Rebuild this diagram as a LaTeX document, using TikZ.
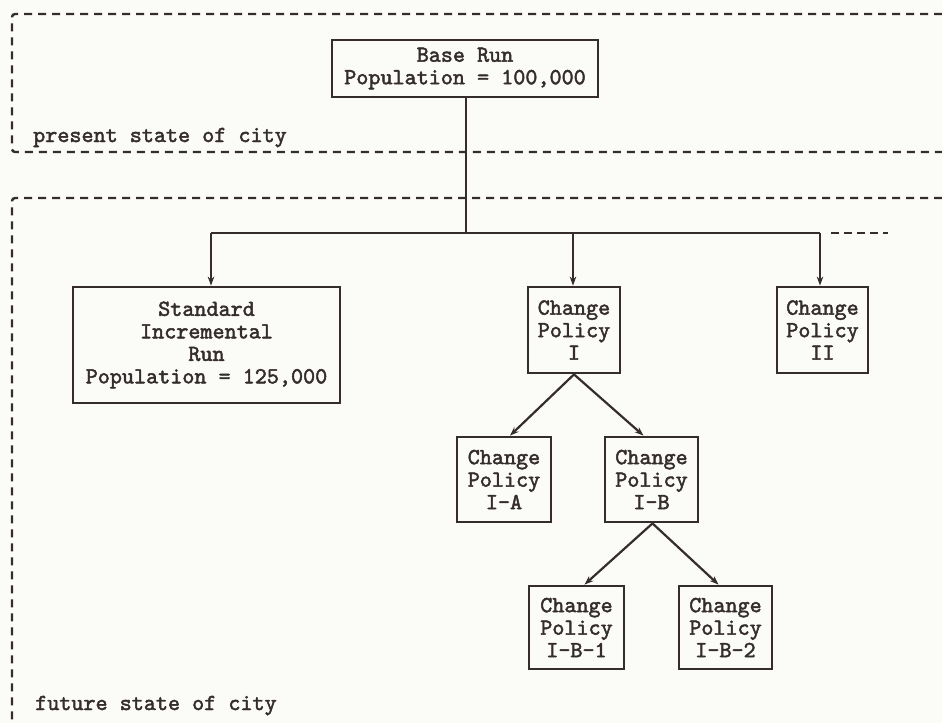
\documentclass[tikz,border=0pt]{standalone}
\usepackage{fontspec}
\newfontfamily\tw{lmmono10-regular.otf}[FakeBold=2]
\usetikzlibrary{arrows.meta}
\definecolor{ink}{HTML}{352C2C}
\definecolor{paper}{HTML}{FBFBF8}
\begin{document}
\begin{tikzpicture}[x=1pt,y=-1pt,
  box/.style={draw=ink, line width=2.8pt, inner sep=0pt, align=center,
    font=\tw\fontsize{23}{22.5}\selectfont, text=ink},
  lbl/.style={inner sep=0pt, anchor=base west, text=ink,
    font=\tw\fontsize{23}{22.5}\selectfont},
  conn/.style={draw=ink, line width=2.2pt},
  arr/.style={conn, -{Stealth[length=9pt,width=6.5pt]}},
  frame/.style={draw=ink, line width=2.4pt, dash pattern=on 8pt off 6pt,
    rounded corners=3pt}]
% page
\fill[paper] (0,0) rectangle (942,723);
\useasboundingbox (0,0) rectangle (942,723);

% the two dashed regions
\draw[frame] (942,14) -- (12,14) -- (12,152) -- (942,152);
\draw[frame] (942,198) -- (12,198) -- (12,723);
\node[lbl] (present) at (33,142) {present state of city};
\node[lbl] (future) at (35,710) {future state of city};

% runs
\node[box, minimum width=266pt, minimum height=57pt] (base) at (465,68.5)
  {Base Run\\Population = 100,000};
\node[box, minimum width=267pt, minimum height=116pt] (std) at (206.5,345)
  {Standard\\Incremental\\Run\\Population = 125,000};
\node[box, minimum width=92pt, minimum height=86pt] (p1) at (574,330)
  {Change\\Policy\\I};
\node[box, minimum width=91pt, minimum height=86pt] (p2) at (822.5,330)
  {Change\\Policy\\II};
\node[box, minimum width=94pt, minimum height=85pt] (p1a) at (504,479.5)
  {Change\\Policy\\I-A};
\node[box, minimum width=93pt, minimum height=85pt] (p1b) at (651.5,479.5)
  {Change\\Policy\\I-B};
\node[box, minimum width=95pt, minimum height=83pt] (p1b1) at (576.5,627.5)
  {Change\\Policy\\I-B-1};
\node[box, minimum width=93pt, minimum height=83pt] (p1b2) at (725.5,627.5)
  {Change\\Policy\\I-B-2};

% distribution bar
\coordinate (jb) at (466,233);
\coordinate (j1) at (211,233);
\coordinate (j2) at (573,233);
\coordinate (j3) at (820,233);
\coordinate (e0) at (831,233);
\coordinate (e1) at (888,233);

\draw[conn] ([xshift=1pt]base.south) -- (jb);
\draw[conn] (j1) -- (j3);
\draw[conn, dash pattern=on 8pt off 5pt] (e0) -- (e1);
\draw[arr] (j1) -- (j1 |- std.north);
\draw[arr] (j2) -- (j2 |- p1.north);
\draw[arr] (j3) -- (j3 |- p2.north);

% policy branches
\draw[arr] (p1.south) -- ([xshift=6pt]p1a.north);
\draw[arr] (p1.south) -- ([xshift=-8pt]p1b.north);
\draw[arr] ([xshift=1pt]p1b.south) -- ([xshift=8pt]p1b1.north);
\draw[arr] ([xshift=1pt]p1b.south) -- ([xshift=-7pt]p1b2.north);
\end{tikzpicture}
\end{document}
